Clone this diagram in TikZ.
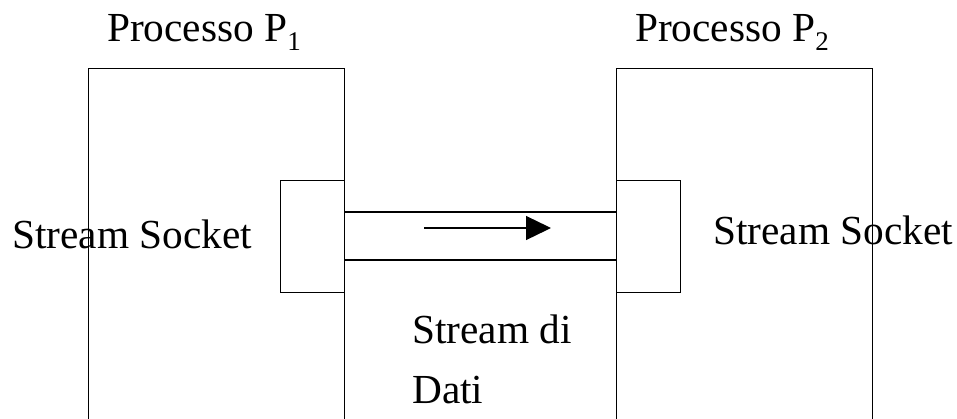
\documentclass[tikz,border=0pt]{standalone}
\usepackage{fontspec}
\setmainfont{Liberation Serif}
\usetikzlibrary{arrows.meta}
\tikzset{
  procbox/.style={draw, line width=1.3pt, inner sep=0pt, anchor=north west},
  sockbox/.style={draw, line width=1.3pt, inner sep=0pt, anchor=north west},
  lbl/.style={inner sep=0pt, anchor=base west, font=\fontsize{41.3}{46}\selectfont},
  chan/.style={line width=1.3pt},
  flow/.style={line width=1.3pt, -{Triangle[length=25pt,width=24pt]}}
}
\newcommand{\psub}[1]{\raisebox{-9pt}{\fontsize{27}{30}\selectfont #1}}
\begin{document}
\begin{tikzpicture}[x=1pt,y=-1pt]
\useasboundingbox (0,0) rectangle (957,418);
\fill[white] (0,0) rectangle (957,418);
\clip (0,0) rectangle (957,418);
% process boxes (open at the bottom edge)
\node[procbox, minimum width=256pt, minimum height=400pt] (p1) at (88,68) {};
\node[procbox, minimum width=256pt, minimum height=400pt] (p2) at (616,68) {};
% sockets
\node[sockbox, minimum width=64pt, minimum height=112pt] (s1) at (280,180) {};
\node[sockbox, minimum width=64pt, minimum height=112pt] (s2) at (616,180) {};
% channel
\coordinate (c1a) at (344,212);
\coordinate (c2a) at (616,212);
\coordinate (c1b) at (344,260);
\coordinate (c2b) at (616,260);
\draw[chan] (c1a) -- (c2a);
\draw[chan] (c1b) -- (c2b);
% arrow
\coordinate (fa) at (424,228);
\coordinate (fb) at (551,228);
\draw[flow] (fa) -- (fb);
% labels
\node[lbl] (t1) at (107,41.7) {Processo P\psub{1}};
\node[lbl] (t2) at (635,41.7) {Processo P\psub{2}};
\node[lbl] (ss1) at (12,248) {Stream Socket};
\node[lbl] (ss2) at (713,244) {Stream Socket};
\node[lbl] (sd1) at (412,343) {Stream di};
\node[lbl] (sd2) at (412,403) {Dati};
\end{tikzpicture}
\end{document}
